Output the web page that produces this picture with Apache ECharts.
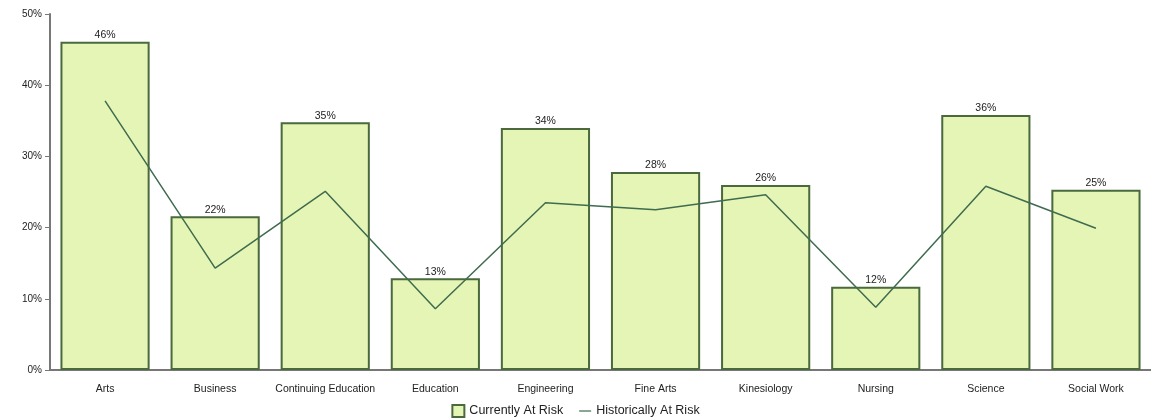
<!DOCTYPE html>
<html><head><meta charset="utf-8">
<script src="https://cdn.jsdelivr.net/npm/echarts@6/dist/echarts.min.js"></script>
<style>html,body{margin:0;padding:0;background:#fff}#c{width:1151px;height:419px}</style>
</head><body><div id="c"></div>
<script>
const categories = ["Arts","Business","Continuing Education","Education","Engineering","Fine Arts","Kinesiology","Nursing","Science","Social Work"];
const currentlyAtRisk = [46.1, 21.6, 34.8, 12.9, 34.0, 27.8, 26.0, 11.7, 35.8, 25.3];
const historicallyAtRisk = [37.8, 14.3, 25.1, 8.6, 23.5, 22.5, 24.6, 8.8, 25.8, 19.9];
const yTicks = [0, 10, 20, 30, 40, 50];

const chart = echarts.init(document.getElementById('c'), null, {renderer:'canvas'});
const font = 'Arial, "Liberation Sans", sans-serif';
chart.setOption({
  animation: false,
  textStyle: {fontFamily: font},
  grid: {left: 50, right: -5, top: 14, bottom: 49, containLabel: false},
  legend: {
    top: 399, left: 'center', itemWidth: 12, itemHeight: 12, itemGap: 16,
    textStyle: {fontSize: 12.5, color: '#222', fontFamily: font},
    data: [
      {name: 'Currently At Risk', icon: 'rect'},
      {name: 'Historically At Risk', icon: 'path://M0,5 L10,5 L10,6 L0,6 Z'}
    ]
  },
  xAxis: {
    type: 'category', data: categories,
    axisLine: {lineStyle: {color: '#777', width: 2}},
    axisTick: {alignWithLabel: true, length: 5, lineStyle: {color: '#777'}},
    axisLabel: {fontSize: 10.5, color: '#222', margin: 14, interval: 0}
  },
  yAxis: {
    type: 'value', min: yTicks[0], max: yTicks[yTicks.length-1], interval: 10,
    splitLine: {show: false},
    axisLine: {show: true, lineStyle: {color: '#777', width: 2}},
    axisTick: {show: true, length: 5, lineStyle: {color: '#777'}},
    axisLabel: {fontSize: 10, color: '#222', formatter: v => v + '%', margin: 8}
  },
  series: [
    {
      name: 'Currently At Risk', type: 'bar', data: currentlyAtRisk,
      barWidth: '81%',
      itemStyle: {color: '#e5f5b5', borderColor: '#4a6a3e', borderWidth: 2},
      label: {show: true, position: 'top', distance: 1, fontSize: 10.5, color: '#222',
        formatter: p => Math.round(p.value) + '%'}
    },
    {
      name: 'Historically At Risk', type: 'line', data: historicallyAtRisk,
      symbol: 'none', lineStyle: {color: '#3f6b4f', width: 1.5},
      itemStyle: {color: '#3f6b4f'}
    }
  ]
});
</script></body></html>
